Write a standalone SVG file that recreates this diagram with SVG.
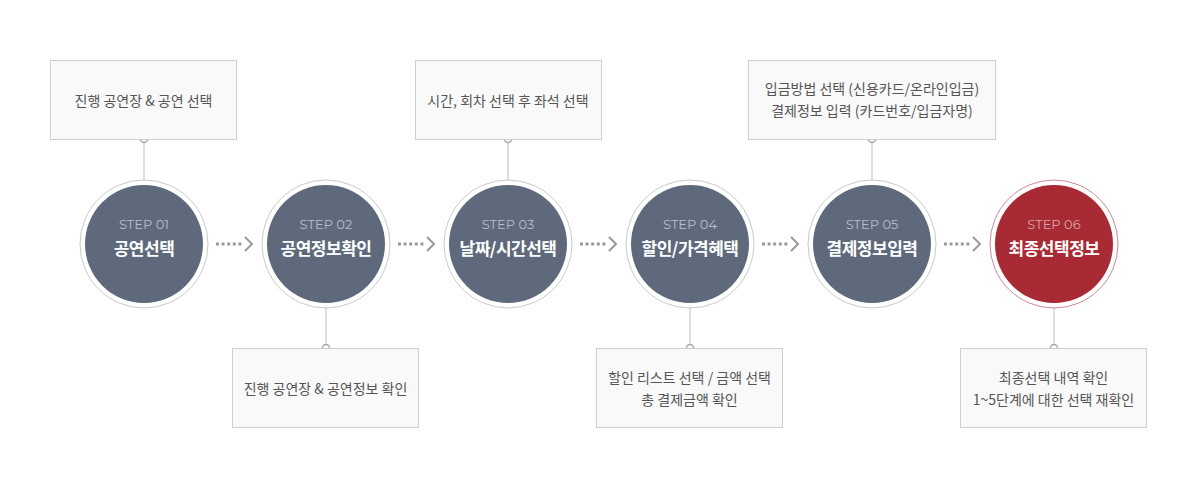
<svg xmlns="http://www.w3.org/2000/svg" width="1198" height="488" viewBox="0 0 1198 488">
<style>
.box{fill:#f9f9f9;stroke:#cfcfcf;stroke-width:1}
.bt{font-family:"Noto Sans CJK KR","Noto Sans",sans-serif;font-size:14px;fill:#555;text-anchor:middle}
.ring{fill:#fff;stroke:#c9c9c9;stroke-width:1}
.ringr{fill:#fff;stroke:#c98a90;stroke-width:1}
.fill{fill:#5e6a7b}
.fillr{fill:#a82a35}
.st{font-family:"Montserrat","Noto Sans",sans-serif;font-size:13px;fill:#b7bdc7;text-anchor:middle}
.str{fill:#d9a3a8}
.tt{font-family:"Noto Sans CJK KR","Noto Sans",sans-serif;font-size:17px;font-weight:bold;fill:#fff;text-anchor:middle;letter-spacing:-0.5px}
.ln{stroke:#bdbdbd;stroke-width:1;fill:none}
.dot{fill:#fff;stroke:#aaa;stroke-width:1.5}
.dash{stroke:#999;stroke-width:3;stroke-dasharray:3 2.6;fill:none}
.chev{stroke:#999;stroke-width:2;fill:none}
</style>
<rect width="1198" height="488" fill="#fff"/>
<g id="connectors">
<line class="ln" x1="144" y1="139" x2="144" y2="181"/>
<line class="ln" x1="508" y1="139" x2="508" y2="181"/>
<line class="ln" x1="872" y1="139" x2="872" y2="181"/>
<line class="ln" x1="326" y1="308" x2="326" y2="348"/>
<line class="ln" x1="690" y1="308" x2="690" y2="348"/>
<line class="ln" x1="1054" y1="308" x2="1054" y2="348"/>
<circle class="dot" cx="144" cy="139" r="3.5"/>
<circle class="dot" cx="508" cy="139" r="3.5"/>
<circle class="dot" cx="872" cy="139" r="3.5"/>
<circle class="dot" cx="326" cy="348" r="3.5"/>
<circle class="dot" cx="690" cy="348" r="3.5"/>
<circle class="dot" cx="1054" cy="348" r="3.5"/>
<g id="arrow1"><line class="dash" x1="216" y1="244" x2="244" y2="244"/><polyline class="chev" points="245,237 252,244 245,251"/></g>
<g id="arrow2"><line class="dash" x1="398" y1="244" x2="426" y2="244"/><polyline class="chev" points="427,237 434,244 427,251"/></g>
<g id="arrow3"><line class="dash" x1="580" y1="244" x2="608" y2="244"/><polyline class="chev" points="609,237 616,244 609,251"/></g>
<g id="arrow4"><line class="dash" x1="762" y1="244" x2="790" y2="244"/><polyline class="chev" points="791,237 798,244 791,251"/></g>
<g id="arrow5"><line class="dash" x1="944" y1="244" x2="972" y2="244"/><polyline class="chev" points="973,237 980,244 973,251"/></g>
</g>
<g id="box1"><rect class="box" x="50.5" y="60.5" width="186" height="79"/><text class="bt" x="143.5" y="106">진행 공연장 &amp; 공연 선택</text></g>
<g id="box3"><rect class="box" x="415.5" y="60.5" width="186" height="79"/><text class="bt" x="508" y="106">시간, 회차 선택 후 좌석 선택</text></g>
<g id="box5"><rect class="box" x="748.5" y="60.5" width="247" height="79"/><text class="bt" x="872" y="94">입금방법 선택 (신용카드/온라인입금)</text><text class="bt" x="872" y="116">결제정보 입력 (카드번호/입금자명)</text></g>
<g id="box2"><rect class="box" x="232.5" y="348.5" width="186" height="79"/><text class="bt" x="325.5" y="394">진행 공연장 &amp; 공연정보 확인</text></g>
<g id="box4"><rect class="box" x="596.5" y="348.5" width="186" height="79"/><text class="bt" x="689.5" y="383">할인 리스트 선택 / 금액 선택</text><text class="bt" x="689.5" y="405">총 결제금액 확인</text></g>
<g id="box6"><rect class="box" x="960.5" y="348.5" width="186" height="79"/><text class="bt" x="1053.5" y="383">최종선택 내역 확인</text><text class="bt" x="1053.5" y="405">1~5단계에 대한 선택 재확인</text></g>
<g id="step1"><circle class="ring" cx="144" cy="244" r="64"/><circle class="fill" cx="144" cy="244" r="59"/><text class="st" x="144" y="229">STEP 01</text><text class="tt" x="144" y="255">공연선택</text></g>
<g id="step2"><circle class="ring" cx="326" cy="244" r="64"/><circle class="fill" cx="326" cy="244" r="59"/><text class="st" x="326" y="229">STEP 02</text><text class="tt" x="326" y="255">공연정보확인</text></g>
<g id="step3"><circle class="ring" cx="508" cy="244" r="64"/><circle class="fill" cx="508" cy="244" r="59"/><text class="st" x="508" y="229">STEP 03</text><text class="tt" x="508" y="255">날짜/시간선택</text></g>
<g id="step4"><circle class="ring" cx="690" cy="244" r="64"/><circle class="fill" cx="690" cy="244" r="59"/><text class="st" x="690" y="229">STEP 04</text><text class="tt" x="690" y="255">할인/가격혜택</text></g>
<g id="step5"><circle class="ring" cx="872" cy="244" r="64"/><circle class="fill" cx="872" cy="244" r="59"/><text class="st" x="872" y="229">STEP 05</text><text class="tt" x="872" y="255">결제정보입력</text></g>
<g id="step6"><circle class="ringr" cx="1054" cy="244" r="64"/><circle class="fillr" cx="1054" cy="244" r="59"/><text class="st str" x="1054" y="229">STEP 06</text><text class="tt" x="1054" y="255">최종선택정보</text></g>
</svg>
